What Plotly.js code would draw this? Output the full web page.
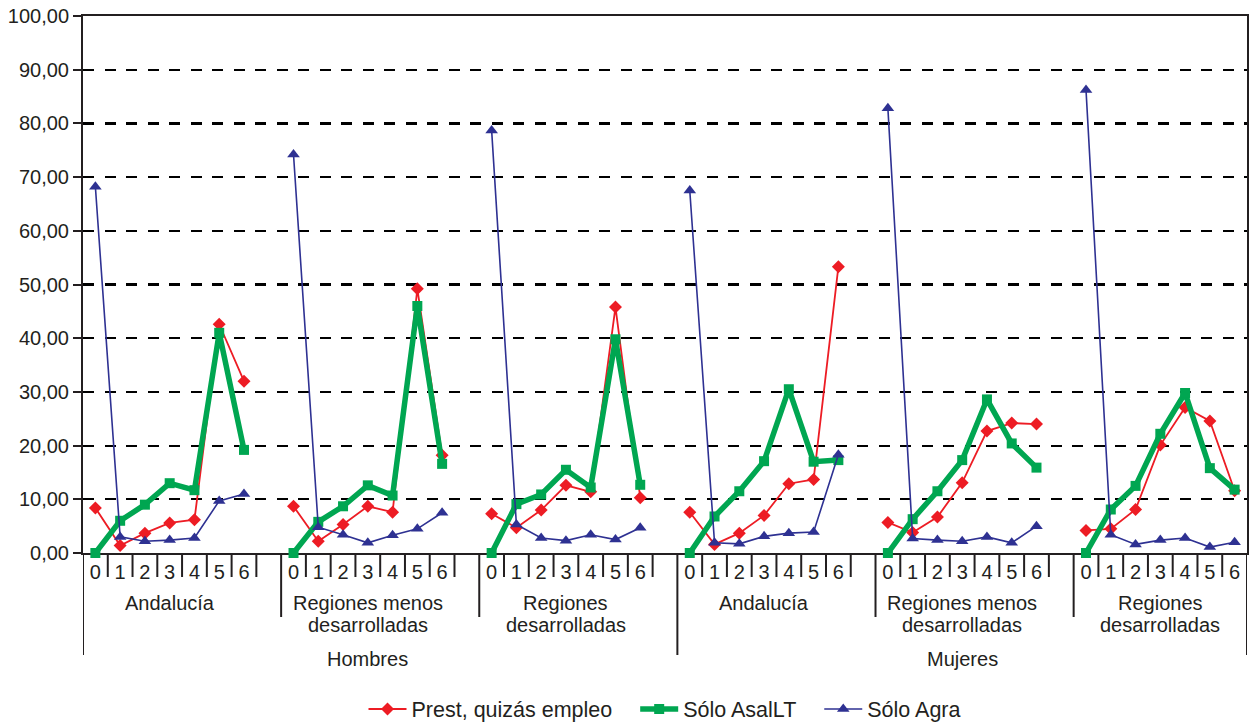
<!DOCTYPE html>
<html>
<head>
<meta charset="utf-8">
<script src="https://cdn.plot.ly/plotly-3.0.1.min.js"></script>
<style>html,body{margin:0;padding:0;background:#fff}#chart{width:1250px;height:724px}</style>
</head>
<body>
<div id="chart"></div>
<script>
// ---- data ----
const categories = ['0','1','2','3','4','5','6'];
const regions = ['Andalucía','Regiones menos<br>desarrolladas','Regiones<br>desarrolladas',
                 'Andalucía','Regiones menos<br>desarrolladas','Regiones<br>desarrolladas'];
const genders = ['Hombres','Mujeres'];
const seriesNames = ['Prest, quizás empleo','Sólo AsalLT','Sólo Agra'];

const prest = [8.4,1.4,3.7,5.6,6.2,42.6,32.0,
               8.7,2.2,5.3,8.7,7.6,49.2,18.2,
               7.3,4.7,8.0,12.6,11.4,45.8,10.3,
               7.6,1.6,3.7,7.0,12.9,13.7,53.3,
               5.7,3.8,6.7,13.1,22.7,24.2,24.0,
               4.2,4.5,8.1,20.1,27.1,24.6,11.6];
const asal  = [0,6.0,9.0,13.0,11.7,41.0,19.2,
               0,5.8,8.7,12.6,10.7,46.0,16.6,
               0,9.1,10.9,15.5,12.2,39.8,12.7,
               0,6.8,11.5,17.1,30.5,17.0,17.3,
               0,6.3,11.5,17.3,28.6,20.4,15.9,
               0,8.1,12.5,22.2,29.8,15.8,11.8];
const agra  = [68.2,3.0,2.2,2.4,2.8,9.7,11.0,
               74.2,4.8,3.4,1.9,3.3,4.5,7.5,
               78.7,5.3,2.8,2.3,3.4,2.5,4.7,
               67.5,1.9,1.7,3.1,3.7,3.9,18.3,
               82.8,2.7,2.4,2.2,3.0,1.9,5.0,
               86.2,3.4,1.6,2.4,2.8,1.1,2.0];

// ---- layout helpers ----
const nCat = categories.length;      // 7
const slot = nCat + 1;               // one empty slot between region groups
const nGroups = regions.length;
const lastPos = (nGroups - 1) * slot + nCat - 1;

function build(vals) {
  const xs = [], ys = [];
  for (let g = 0; g < nGroups; g++) {
    for (let k = 0; k < nCat; k++) { xs.push(g * slot + k); ys.push(vals[g * nCat + k]); }
    if (g < nGroups - 1) { xs.push(g * slot + nCat); ys.push(null); }
  }
  return {xs, ys};
}

const ink = '#231f20';
const FONT = 'Liberation Sans, Arial, sans-serif';
const colors = ['#ed1c24', '#00a651', '#2e3192'];
const pad = '\u00a0\u00a0\u00a0';
const styles = [
  {line: {color: colors[0], width: 1.8}, marker: {symbol: 'diamond', size: 10, color: colors[0]}},
  {line: {color: colors[1], width: 5.5}, marker: {symbol: 'square', size: 10, color: colors[1]}},
  {line: {color: colors[2], width: 1.6}, marker: {symbol: 'triangle-up', size: 11, color: colors[2]}}
];
const traces = [prest, asal, agra].map((v, i) => {
  const b = build(v);
  return Object.assign({
    type: 'scatter', mode: 'lines+markers', name: seriesNames[i] + (i < 2 ? pad : ''),
    x: b.xs, y: b.ys, connectgaps: false, cliponaxis: false
  }, styles[i]);
});

// tick positions
const tickvals = [], ticktext = [];
for (let g = 0; g < nGroups; g++) for (let k = 0; k < nCat; k++) { tickvals.push(g * slot + k); ticktext.push(categories[k]); }

// separators
const plotH = 724 - 16 - 171;
const px = p => -p / plotH;           // pixels below the x axis -> paper coords
const shapes = [];
const lineStyle = {color: ink, width: 2};
for (let b = 0; b <= lastPos + 1; b++) {
  const xb = b - 0.5;
  let y1 = px(24);
  if (b === 0 || b === lastPos + 1 || b === 3 * slot) y1 = px(102);
  else if (b % slot === 0) y1 = px(64);
  shapes.push({type: 'line', xref: 'x', yref: 'paper', x0: xb, x1: xb, y0: px(1), y1: y1, line: lineStyle});
}

const annotations = [];
const labFont = {family: FONT, size: 20, color: ink};
for (let g = 0; g < nGroups; g++) {
  const lines = regions[g].split('<br>');
  lines.forEach((t, j) => {
    annotations.push({xref: 'x', yref: 'paper', x: g * slot + (nCat - 1) / 2, y: px(50 + 22 * j), yanchor: 'middle',
      text: t, showarrow: false, font: labFont});
  });
}
const half = nGroups / 2;
for (let h = 0; h < genders.length; h++) {
  const first = h * half * slot, last = (h + 1) * half * slot - 2;
  annotations.push({xref: 'x', yref: 'paper', x: (first + last) / 2, y: px(106), yanchor: 'middle',
    text: genders[h], showarrow: false, font: labFont});
}

const layout = {
  width: 1250, height: 724,
  margin: {l: 83, r: 3, t: 16, b: 171, autoexpand: false},
  paper_bgcolor: '#fff', plot_bgcolor: '#fff',
  separators: ',.',
  font: {family: FONT, size: 20, color: ink},
  showlegend: true,
  legend: {orientation: 'h', x: 0.5, xanchor: 'center', y: px(156), yanchor: 'middle',
           font: {family: FONT, size: 21.5, color: ink}, itemwidth: 38},
  xaxis: {range: [-0.5, lastPos + 0.5], tickvals: tickvals, ticktext: ticktext, ticks: '',
          showgrid: false, zeroline: false, showline: true, linecolor: ink, linewidth: 2, mirror: true,
          tickfont: {family: FONT, size: 20, color: ink}, layer: 'below traces', fixedrange: true, automargin: false},
  yaxis: {range: [0, 100], dtick: 10, tickformat: '.2f', ticks: 'outside', ticklen: 8, tickwidth: 2,
          tickcolor: ink, showline: true, linecolor: ink, linewidth: 2, mirror: true,
          showgrid: true, gridcolor: '#000', gridwidth: 2.2, griddash: '11px,10.5px', zeroline: false,
          tickfont: {family: FONT, size: 20, color: ink}, layer: 'below traces', fixedrange: true, automargin: false},
  shapes: shapes,
  annotations: annotations
};

Plotly.newPlot('chart', traces, layout, {displayModeBar: false, staticPlot: true});
</script>
</body>
</html>
